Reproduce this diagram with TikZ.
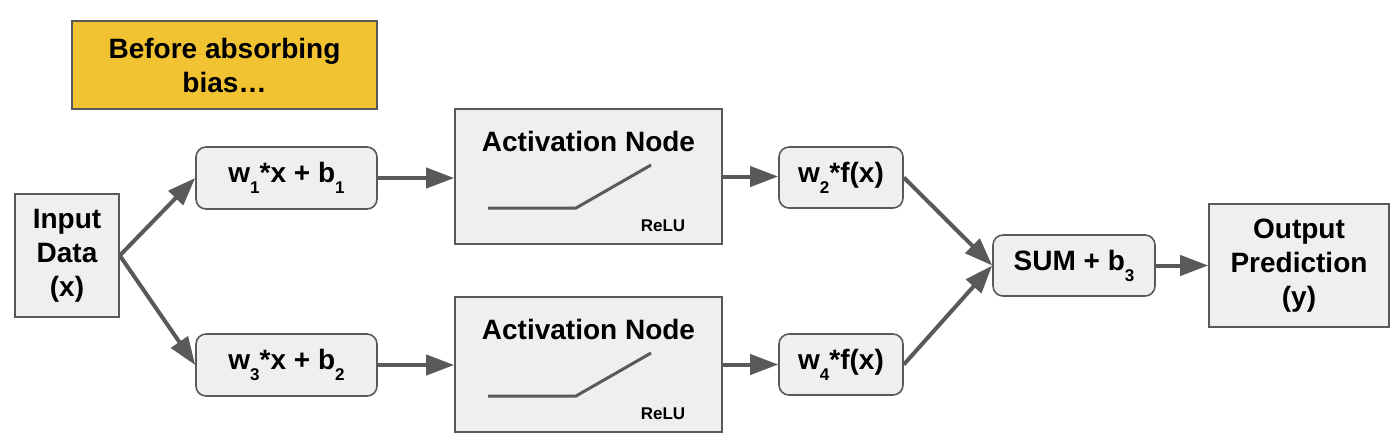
\documentclass[tikz,border=0pt]{standalone}
\usepackage{fontspec}
\setmainfont{Liberation Sans}
\usetikzlibrary{arrows.meta}
\definecolor{boxfill}{HTML}{EFEFEF}
\definecolor{boxline}{HTML}{595959}
\definecolor{yel}{HTML}{F1C232}
\newcommand{\lowsub}[1]{\raisebox{-5.5pt}{\fontsize{8.5}{10}\selectfont #1}}
\begin{document}
\begin{tikzpicture}[x=0.5pt,y=-0.5pt,
  base/.style={draw=boxline,line width=0.8pt,fill=boxfill,inner sep=0pt,align=center,
    font=\fontsize{14}{17}\selectfont\bfseries},
  sqbox/.style={base},
  rbox/.style={base,rounded corners=5pt},
  note/.style={base,fill=yel},
  lbl/.style={inner sep=0pt,font=\fontsize{14}{17}\selectfont\bfseries},
  small/.style={inner sep=0pt,font=\fontsize{8.5}{10}\selectfont\bfseries},
  conn/.style={draw=boxline,line width=2pt,-{Triangle[length=14pt,width=10pt]}},
  relu/.style={draw=boxline,line width=1.5pt}]
\useasboundingbox (0,0) rectangle (1400,447);
\node[note,minimum width=152.5pt,minimum height=44pt] (note) at (224.5,65) {Before absorbing\\bias\dots};
\node[sqbox,minimum width=52pt,minimum height=61.5pt] (in) at (67,255.5) {Input\\Data\\(x)};
\node[rbox,minimum width=90.5pt,minimum height=31pt] (w1) at (286.5,178) {w\lowsub{1}*x + b\lowsub{1}};
\node[rbox,minimum width=90.5pt,minimum height=31pt] (w3) at (286.5,365) {w\lowsub{3}*x + b\lowsub{2}};
\node[sqbox,minimum width=133.5pt,minimum height=67.5pt] (a1) at (588.5,176.5) {};
\node[sqbox,minimum width=133.5pt,minimum height=67.5pt] (a2) at (588.5,364.5) {};
\node[lbl,anchor=base] (a1t) at (588.5,151) {Activation Node};
\node[lbl,anchor=base] (a2t) at (588.5,339) {Activation Node};
\node[small] (r1) at (663,226) {ReLU};
\node[small] (r2) at (663,414) {ReLU};
\draw[relu] (488,208) -- (576,208) -- (651,165);
\draw[relu] (488,396) -- (576,396) -- (651,353);
\node[rbox,minimum width=62pt,minimum height=30.5pt] (w2) at (841,177.5) {w\lowsub{2}*f(x)};
\node[rbox,minimum width=62pt,minimum height=30.5pt] (w4) at (841,364.5) {w\lowsub{4}*f(x)};
\node[rbox,minimum width=81pt,minimum height=30.5pt] (sum) at (1074,265.5) {SUM + b\lowsub{3}};
\node[sqbox,minimum width=90pt,minimum height=61.5pt] (out) at (1299,265.5) {Output\\Prediction\\(y)};
\draw[conn] (in.east) -- (w1.west);
\draw[conn] (in.east) -- (w3.west);
\draw[conn] (w1) -- (w1.east -| a1.west);
\draw[conn] (w3) -- (w3.east -| a2.west);
\draw[conn] (a1.east) -- (a1.east -| w2.west);
\draw[conn] (a2.east) -- (a2.east -| w4.west);
\draw[conn] (w2.east) -- (sum.west);
\draw[conn] (w4.east) -- (sum.west);
\draw[conn] (sum) -- (out);
\end{tikzpicture}
\end{document}
